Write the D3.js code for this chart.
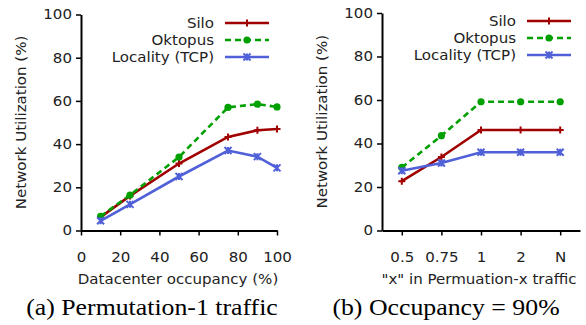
<!DOCTYPE html>
<html><head><meta charset="utf-8">
<script src="https://cdn.jsdelivr.net/npm/d3@7"></script>
<style>body{margin:0;background:#fff}svg{display:block}</style>
</head><body>
<script>
const seriesNames = ["Silo", "Oktopus", "Locality (TCP)"];
const occupancy = [10, 25, 50, 75, 90, 100];
const siloA = [6.2, 16, 31, 43.3, 46.4, 47];
const oktopusA = [6.6, 16.4, 34, 57, 58.5, 57.2];
const localityA = [4.5, 12.1, 25, 37, 34.2, 29];
const xCats = ["0.5", "0.75", "1", "2", "N"];
const siloB = [22.7, 33.8, 46.2, 46.2, 46.2];
const oktopusB = [29, 43.6, 59.2, 59.2, 59.2];
const localityB = [27.5, 31, 36, 36, 36];
const yTicks = [0, 20, 40, 60, 80, 100];
const xTicksA = [0, 20, 40, 60, 80, 100];

const colors = ["#a00000", "#00a000", "#5060d8"];
const W = 586, H = 325, SX = 1.075;
const svg = d3.select("body").append("svg").attr("width", W).attr("height", H)
  .style("font-family", "'DejaVu Sans', sans-serif");

function stretch(sel) {
  sel.each(function () {
    const t = d3.select(this);
    const x = +(t.attr("x") || 0), y = +(t.attr("y") || 0);
    const tr = t.attr("transform") || "";
    t.attr("x", 0).attr("y", 0).attr("transform", `${tr} translate(${x},${y}) scale(${SX},1)`);
  });
}

function drawMarker(g, type, x, y, color) {
  if (type === 0) {
    g.append("path").attr("d", `M${x-3.5},${y}H${x+3.5}M${x},${y-3.5}V${y+3.5}`)
      .attr("stroke", color).attr("stroke-width", 2);
  } else if (type === 1) {
    g.append("circle").attr("cx", x).attr("cy", y).attr("r", 3.6).attr("fill", color);
  } else {
    g.append("path").attr("d", `M${x-3.5},${y-3.5}L${x+3.5},${y+3.5}M${x-3.5},${y+3.5}L${x+3.5},${y-3.5}M${x},${y-3.5}V${y+3.5}`)
      .attr("stroke", color).attr("stroke-width", 2);
  }
}

function panel(opt) {
  const g = svg.append("g");
  const y = opt.y;
  const yAxis = d3.axisLeft(y).tickValues(yTicks).tickSize(5).tickPadding(4).tickSizeOuter(0);
  const ya = g.append("g").attr("transform", `translate(${opt.x0},0)`).call(yAxis);
  const xa = g.append("g").attr("transform", `translate(0,${y(0)})`).call(opt.xAxis);
  [ya, xa].forEach(a => {
    a.selectAll(".domain").attr("stroke", "#000").attr("stroke-width", 2);
    a.selectAll(".tick line").attr("stroke", "#000").attr("stroke-width", 1.5);
    a.selectAll("text").attr("font-size", 14).attr("fill", "#222").attr("font-family", "'DejaVu Sans', sans-serif");
  });
  xa.selectAll("text").attr("dy", null).attr("y", 31);
  opt.series.forEach((s, i) => {
    const line = d3.line().x((d, j) => opt.xv(j)).y(d => y(d));
    g.append("path").datum(s).attr("d", line).attr("fill", "none")
      .attr("stroke", colors[i]).attr("stroke-width", 2.6)
      .attr("stroke-dasharray", i === 1 ? "6,4" : null);
    s.forEach((d, j) => drawMarker(g, i, opt.xv(j), y(d), colors[i]));
  });
  seriesNames.forEach((n, i) => {
    const ly = opt.legY + i * 17;
    g.append("text").attr("class", "lab").attr("x", opt.legX).attr("y", ly).attr("dy", "0.35em")
      .attr("text-anchor", "end").attr("font-size", 14).attr("fill", "#222").text(n);
    g.append("line").attr("x1", opt.legX + 11).attr("x2", opt.legX + 55)
      .attr("y1", ly).attr("y2", ly).attr("stroke", colors[i]).attr("stroke-width", 2.6)
      .attr("stroke-dasharray", i === 1 ? "6,4" : null);
    drawMarker(g, i, opt.legX + 33, ly, colors[i]);
  });
  g.append("text").attr("transform", `translate(${opt.ytX},${(y(0) + y(100)) / 2}) rotate(-90)`)
    .attr("text-anchor", "middle").attr("font-size", 14).attr("fill", "#222").text("Network Utilization (%)");
  g.append("text").attr("x", opt.xtX).attr("y", 284).attr("text-anchor", "middle")
    .attr("font-size", 14).attr("fill", "#222").text(opt.xTitle);
  g.append("text").attr("x", opt.capX).attr("y", 315).attr("text-anchor", "middle")
    .attr("font-size", 24).attr("font-family", "'Liberation Serif', 'Times New Roman', serif")
    .attr("fill", "#000").text(opt.caption);
  stretch(g.selectAll("text"));
}

const xA = d3.scaleLinear().domain([0, 100]).range([81, 277]);
const yA = d3.scaleLinear().domain([0, 100]).range([230.5, 14.5]);
panel({
  y: yA, x0: 81,
  xAxis: d3.axisBottom(xA).tickValues(xTicksA).tickSize(5).tickSizeOuter(0),
  xv: j => xA(occupancy[j]),
  series: [siloA, oktopusA, localityA],
  legX: 214, legY: 23, ytX: 26, xtX: 178, xTitle: "Datacenter occupancy (%)",
  capX: 152, caption: "(a) Permutation-1 traffic"
});

const xB = d3.scalePoint().domain(xCats).range([382, 580]).padding(0.5);
const yB = d3.scaleLinear().domain([0, 100]).range([230.5, 13]);
panel({
  y: yB, x0: 382,
  xAxis: d3.axisBottom(xB).tickSize(5).tickSizeOuter(0),
  xv: j => xB(xCats[j]),
  series: [siloB, oktopusB, localityB],
  legX: 516, legY: 21, ytX: 327, xtX: 479, xTitle: "\"x\" in Permuation-x traffic",
  capX: 446, caption: "(b) Occupancy = 90%"
});
</script>
</body></html>
